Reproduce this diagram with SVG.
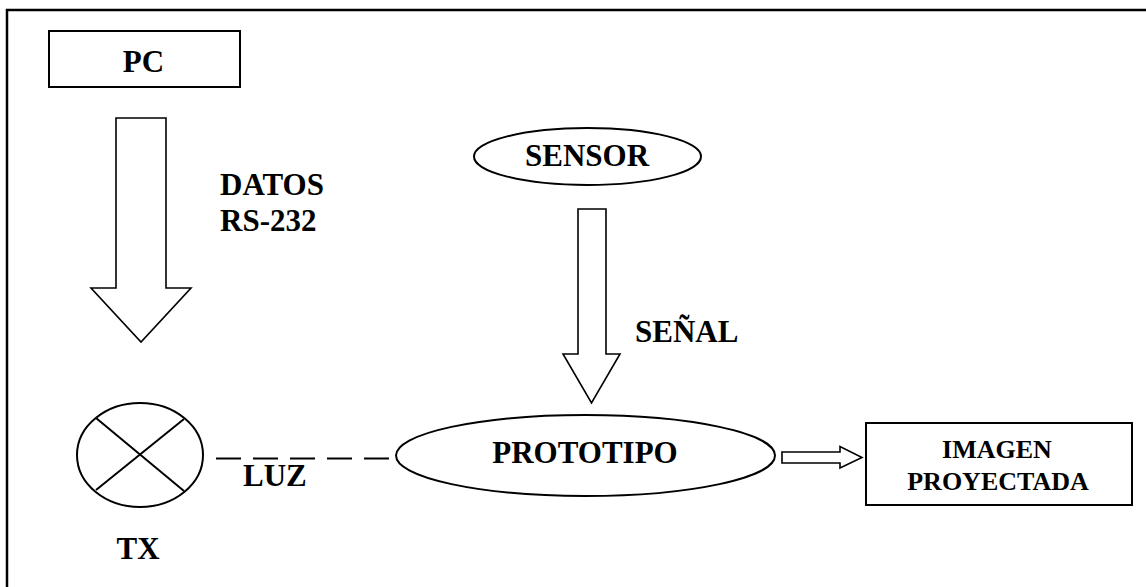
<svg xmlns="http://www.w3.org/2000/svg" width="1146" height="587" viewBox="0 0 1146 587">
  <style>
    .shape { fill: #fff; stroke: #000; stroke-width: 2; }
    .thin { fill: #fff; stroke: #000; stroke-width: 1.6; stroke-linejoin: miter; }
    .line { fill: none; stroke: #000; stroke-width: 2; }
    .dash { fill: none; stroke: #000; stroke-width: 2; stroke-dasharray: 25 12; }
    text { font-family: "Liberation Serif", "Times New Roman", serif; font-weight: bold; fill: #000; }
    .big { font-size: 31px; }
    .small { font-size: 26px; }
  </style>

  <rect x="0" y="0" width="1146" height="587" fill="#fff"/>
  <!-- outer frame (right and bottom edges run off the page) -->
  <rect x="7" y="10" width="1160" height="600" fill="none" stroke="#000" stroke-width="2.5"/>

  <g id="pc">
    <rect class="shape" x="49" y="31" width="191" height="56"/>
    <text class="big" x="143.5" y="71.5" text-anchor="middle">PC</text>
  </g>

  <g id="sensor">
    <ellipse class="shape" cx="587.5" cy="156.5" rx="113.5" ry="28.5"/>
    <text class="big" x="587" y="165.5" text-anchor="middle">SENSOR</text>
  </g>

  <g id="tx">
    <ellipse class="shape" cx="140" cy="455" rx="63" ry="52"/>
    <line class="line" x1="96" y1="418" x2="184" y2="491"/>
    <line class="line" x1="184" y1="419" x2="96" y2="490"/>
    <text class="big" x="138" y="559" text-anchor="middle">TX</text>
  </g>

  <g id="prototipo">
    <ellipse class="shape" cx="585.5" cy="455.5" rx="189.5" ry="40.5"/>
    <text class="big" x="585" y="463" text-anchor="middle">PROTOTIPO</text>
  </g>

  <g id="imagen">
    <rect class="shape" x="866" y="423" width="266" height="82"/>
    <text class="small" x="997" y="458" text-anchor="middle">IMAGEN</text>
    <text class="small" x="998" y="490" text-anchor="middle">PROYECTADA</text>
  </g>

  <g id="connectors">
    <!-- PC to TX block arrow -->
    <path class="thin" d="M116,118 L166,118 L166,288 L191,288 L141,342 L91,288 L116,288 Z"/>
    <text class="big" x="220" y="195">DATOS</text>
    <text class="big" x="220" y="231">RS-232</text>

    <!-- sensor to prototype block arrow -->
    <path class="thin" d="M578,209 L606,209 L606,354 L620,354 L591.5,403 L563,354 L578,354 Z"/>
    <text class="big" x="635" y="341.5">SEÑAL</text>

    <!-- light link -->
    <line class="dash" x1="216" y1="458.5" x2="390" y2="458.5"/>
    <text class="big" x="243" y="486">LUZ</text>

    <!-- prototype to projected image -->
    <path class="thin" d="M782,452 L840,452 L840,446.5 L862,457.5 L840,468 L840,463 L782,463 Z"/>
  </g>
</svg>
